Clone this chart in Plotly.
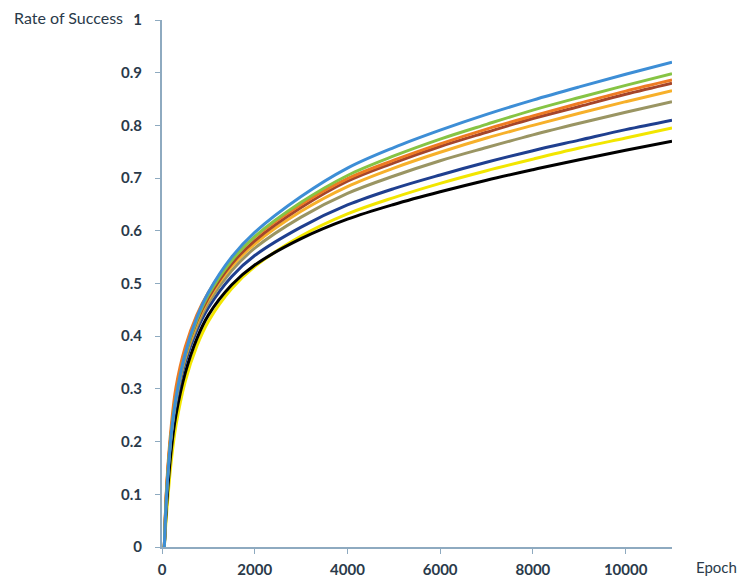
import plotly.graph_objects as go

epochs = [50, 100, 200, 300, 500, 750, 1000, 1500, 2000, 3000, 4000, 5000, 6000, 7000, 8000, 9000, 10000, 11000]

blue   = [0, 0.100, 0.214, 0.282, 0.367, 0.435, 0.483, 0.550, 0.597, 0.665, 0.719, 0.758, 0.791, 0.821, 0.848, 0.873, 0.897, 0.920]
green  = [0, 0.103, 0.216, 0.282, 0.365, 0.431, 0.478, 0.543, 0.589, 0.654, 0.705, 0.742, 0.774, 0.802, 0.829, 0.853, 0.876, 0.898]
orange = [0, 0.115, 0.230, 0.302, 0.379, 0.440, 0.483, 0.545, 0.588, 0.650, 0.699, 0.734, 0.765, 0.793, 0.818, 0.842, 0.865, 0.886]
brown  = [0, 0.110, 0.219, 0.283, 0.364, 0.428, 0.473, 0.537, 0.581, 0.644, 0.694, 0.729, 0.760, 0.787, 0.813, 0.836, 0.859, 0.880]
gold   = [0, 0.110, 0.218, 0.281, 0.361, 0.424, 0.469, 0.532, 0.575, 0.637, 0.684, 0.719, 0.749, 0.776, 0.800, 0.823, 0.845, 0.866]
tan    = [0, 0.105, 0.215, 0.278, 0.357, 0.418, 0.463, 0.524, 0.567, 0.626, 0.671, 0.704, 0.733, 0.758, 0.782, 0.804, 0.825, 0.845]
navy   = [0, 0.100, 0.210, 0.272, 0.350, 0.411, 0.454, 0.513, 0.553, 0.607, 0.649, 0.680, 0.706, 0.730, 0.752, 0.772, 0.792, 0.810]
yellow = [0, 0.065, 0.163, 0.230, 0.314, 0.381, 0.428, 0.490, 0.532, 0.590, 0.632, 0.663, 0.690, 0.714, 0.736, 0.757, 0.776, 0.795]
black  = [0, 0.080, 0.185, 0.250, 0.330, 0.395, 0.440, 0.497, 0.535, 0.585, 0.622, 0.650, 0.674, 0.696, 0.716, 0.735, 0.753, 0.770]

series = [
    ("yellow", yellow, "#f2e600"),
    ("black", black, "#000000"),
    ("navy", navy, "#1f3f8f"),
    ("tan", tan, "#9a9563"),
    ("gold", gold, "#f7b02a"),
    ("brown", brown, "#a5452a"),
    ("orange", orange, "#ee7a22"),
    ("green", green, "#86c444"),
    ("blue", blue, "#3d8ed6"),
]

fig = go.Figure()
for name, vals, col in series:
    fig.add_trace(go.Scatter(x=epochs, y=vals, mode="lines", name=name,
                             line=dict(color=col, width=3, shape="spline", smoothing=1.0)))

axis_col = "#8eaac0"
font_fam = "Lato, Open Sans, sans-serif"
tick_font = dict(family=font_fam, size=15, color="#2a3a4a", weight="bold")

fig.update_layout(
    width=741, height=581,
    margin=dict(l=162, r=69, t=20, b=34, autoexpand=False),
    paper_bgcolor="white", plot_bgcolor="white",
    showlegend=False,
    xaxis=dict(range=[0, 11000], tickvals=[0, 2000, 4000, 6000, 8000, 10000],
               ticktext=["0", "2000", "4000", "6000", "8000", "10000"],
               automargin=False,
               showgrid=False, zeroline=False, showline=True, linecolor=axis_col, linewidth=2,
               ticks="outside", ticklen=5, tickcolor=axis_col, ticklabelstandoff=3,
               tickfont=tick_font),
    yaxis=dict(range=[0, 1], tickvals=[0, 0.1, 0.2, 0.3, 0.4, 0.5, 0.6, 0.7, 0.8, 0.9, 1],
               ticktext=["0", "0.1", "0.2", "0.3", "0.4", "0.5", "0.6", "0.7", "0.8", "0.9", "1"],
               automargin=False,
               showgrid=False, zeroline=False, showline=True, linecolor=axis_col, linewidth=2,
               ticks="outside", ticklen=5, tickcolor=axis_col, ticklabelstandoff=10,
               tickfont=tick_font),
    annotations=[
        dict(text="Rate of Success", xref="paper", yref="paper", x=-0.2944, y=1.0,
             xanchor="left", yanchor="middle", yshift=3, showarrow=False,
             font=dict(family=font_fam, size=16, color="#2a3a4a")),
        dict(text="Epoch", xref="paper", yref="paper", x=1.0, y=0, xshift=67, yshift=-20,
             xanchor="right", yanchor="middle", showarrow=False,
             font=dict(family=font_fam, size=15, color="#2a3a4a")),
    ],
)

fig.write_html("out.html")
